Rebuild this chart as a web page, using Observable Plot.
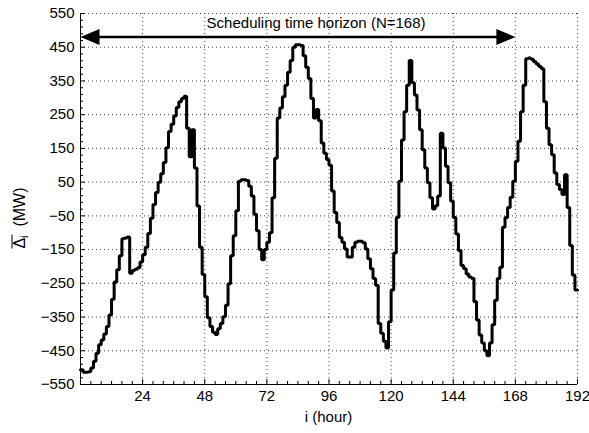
<!DOCTYPE html>
<html><head><meta charset="utf-8">
<script src="https://cdn.jsdelivr.net/npm/d3@7"></script>
<script src="https://cdn.jsdelivr.net/npm/@observablehq/plot@0.6"></script>
<style>
html,body{margin:0;padding:0;background:#fff}
svg{font-family:"Liberation Sans",Arial,Helvetica,sans-serif}
</style>
</head><body><div id="chart"></div>
<script>
// Hourly imbalance values (MW), hours 0..191
const deltaValues = [
  -506, -514, -514, -512, -501, -481, -457, -432, -418, -400,
  -378, -344, -297, -246, -210, -168, -118, -116, -113, -220,
  -212, -208, -204, -187, -165, -143, -102, -57, -16, 19,
  50, 75, 108, 152, 200, 222, 246, 271, 288, 298,
  305, 210, 125, 205, 92, -21, -143, -224, -290, -352,
  -378, -395, -402, -385, -369, -349, -315, -251, -168, -109,
  -35, 53, 57, 57, 55, 38, 9, -45, -94, -150,
  -180, -150, -128, -100, 4, 121, 240, 270, 303, 337,
  376, 411, 450, 457, 457, 455, 425, 391, 357, 298,
  240, 265, 232, 166, 136, 117, 100, 24, -40, -70,
  -114, -128, -148, -172, -172, -143, -128, -125, -125, -130,
  -148, -177, -207, -236, -256, -369, -398, -422, -442, -364,
  -270, -160, -55, 53, 175, 259, 337, 411, 345, 308,
  264, 205, 146, 92, 48, 4, -30, -20, 9, 195,
  151, 97, 48, -6, -55, -104, -153, -197, -207, -222,
  -231, -235, -305, -359, -403, -427, -450, -465, -427, -373,
  -300, -236, -202, -84, -55, -25, 5, 53, 112, 171,
  259, 337, 416, 418, 414, 407, 400, 393, 386, 288,
  210, 161, 131, 77, 43, 28, 13, 72, -25, -138,
  -225, -270
];
const xTicks = [24, 48, 72, 96, 120, 144, 168, 192];
const yTicks = [-550, -450, -350, -250, -150, -50, 50, 150, 250, 350, 450, 550];
const xDomain = [0, 192];
const yDomain = [-550, 550];
const horizonSpan = [0, 168];
const horizonLevel = 480;
const horizonTitle = "Scheduling time horizon (N=168)";
const titleHour = 91;
const titleLevel = 520;
const xLabel = "i (hour)";

const series = deltaValues.map((v, i) => ({hour: i, value: v}));
series.push({hour: xDomain[1], value: deltaValues[deltaValues.length - 1]});

const xMinor = d3.range(xDomain[0], xDomain[1] + 1, 4).filter(v => !xTicks.includes(v));
const yMinor = d3.range(yDomain[0], yDomain[1] + 1, 20).filter(v => !yTicks.includes(v));

const headLeft = {draw(ctx) { ctx.moveTo(0, 0); ctx.lineTo(19, -8); ctx.lineTo(19, 8); ctx.closePath(); }};
const headRight = {draw(ctx) { ctx.moveTo(0, 0); ctx.lineTo(-19, -8); ctx.lineTo(-19, 8); ctx.closePath(); }};

const grid = {stroke: "#000", strokeOpacity: 0.75, strokeDasharray: "1,3", strokeWidth: 1};
const FS = 15;

const chart = Plot.plot({
  width: 589, height: 433,
  marginLeft: 80, marginRight: 12, marginTop: 13, marginBottom: 49,
  style: {fontFamily: "Liberation Sans, Arial, sans-serif", fontSize: FS + "px", background: "white", color: "black", overflow: "visible"},
  x: {domain: xDomain},
  y: {domain: yDomain},
  marks: [
    Plot.gridX(xTicks, grid),
    Plot.gridY(yTicks, grid),
    Plot.axisX(xTicks, {tickSize: 0, tickPadding: 6, fontSize: FS, label: null}),
    Plot.axisX(xTicks, {tickSize: 5, dy: -5, tickFormat: () => "", label: null}),
    Plot.axisX(xMinor, {tickSize: 3, dy: -3, tickFormat: () => "", label: null}),
    Plot.axisY(yTicks, {tickSize: 0, tickPadding: 6, fontSize: FS, label: null}),
    Plot.axisY(yTicks, {tickSize: 5, dx: 5, tickFormat: () => "", label: null}),
    Plot.axisY(yMinor, {tickSize: 3, dx: 3, tickFormat: () => "", label: null}),
    Plot.ruleX([xDomain[0]], {stroke: "#000", strokeWidth: 1}),
    Plot.ruleY([yDomain[0]], {stroke: "#000", strokeWidth: 1}),
    Plot.line(series, {x: "hour", y: "value", curve: "step-after", stroke: "#000", strokeWidth: 3, strokeLinejoin: "miter"}),
    Plot.ruleY([horizonLevel], {x1: horizonSpan[0] + 3, x2: horizonSpan[1] - 3, stroke: "#000", strokeWidth: 2.5}),
    Plot.dot([{h: horizonSpan[0], v: horizonLevel}], {x: "h", y: "v", symbol: headLeft, fill: "#000", stroke: "none"}),
    Plot.dot([{h: horizonSpan[1], v: horizonLevel}], {x: "h", y: "v", symbol: headRight, fill: "#000", stroke: "none"}),
    Plot.text([horizonTitle], {x: titleHour, y: titleLevel, text: d => d, fontSize: FS, fill: "#000"})
  ]
});
document.getElementById("chart").appendChild(chart);

const svg = d3.select(chart);
// x-axis label
svg.append("text")
  .attr("x", 80 + (589 - 80 - 12) / 2)
  .attr("y", 422)
  .attr("text-anchor", "middle")
  .attr("fill", "#000")
  .style("font-size", "15px")
  .text(xLabel);

// y-axis label: overline(Δ_i) (MW)
const g = svg.append("g").attr("transform", "translate(25,218) rotate(-90)");
const t = g.append("text")
  .attr("text-anchor", "middle")
  .attr("fill", "#000")
  .style("font-size", "16px");
const tD = t.append("tspan").text("Δ");
const tI = t.append("tspan").attr("dy", 3).style("font-size", "11px").text("i");
t.append("tspan").attr("dy", -3).text("\u00a0\u00a0(MW)");
const bb = t.node().getBBox();
const wDI = tD.node().getComputedTextLength() + tI.node().getComputedTextLength();
g.append("line")
  .attr("x1", bb.x).attr("x2", bb.x + wDI + 1)
  .attr("y1", bb.y + 1).attr("y2", bb.y + 1)
  .attr("stroke", "#000").attr("stroke-width", 1);
</script>
</body></html>
